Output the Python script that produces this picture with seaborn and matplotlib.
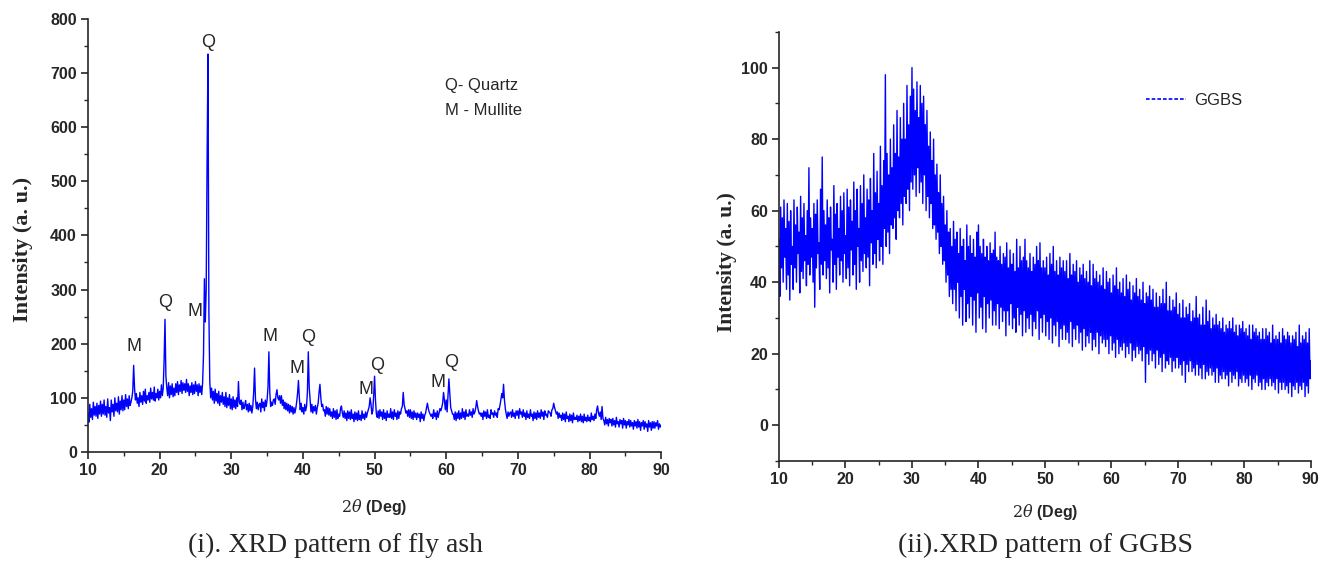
import numpy as np
import pandas as pd
import matplotlib
matplotlib.use("Agg")
import matplotlib.pyplot as plt
from matplotlib.lines import Line2D
from matplotlib.ticker import MultipleLocator
import seaborn as sns

# ---------------- data (0.125 deg steps, one row per degree) ----------------
theta_start, theta_step = 10.0, 0.125

fly_ash = [
    72, 55, 88, 64, 80, 60, 92, 68,        # 10
    84, 66, 90, 62, 86, 70, 94, 66,        # 11
    88, 70, 96, 68, 84, 64, 98, 72,        # 12
    82, 58, 96, 74, 88, 66, 100, 76,       # 13
    90, 74, 102, 70, 94, 78, 104, 76,      # 14
    96, 78, 106, 84, 98, 80, 104, 86,      # 15
    92, 100, 112, 160, 118, 96, 108, 90,   # 16
    100, 84, 110, 92, 104, 88, 112, 94,    # 17
    116, 90, 104, 96, 110, 92, 118, 98,    # 18
    110, 96, 120, 94, 108, 100, 116, 96,   # 19
    112, 100, 124, 104, 118, 170, 245, 140,  # 20
    118, 104, 128, 100, 122, 106, 126, 102,  # 21
    118, 104, 126, 110, 130, 106, 124, 112,  # 22
    132, 108, 128, 114, 126, 110, 134, 112,  # 23
    126, 104, 122, 110, 128, 106, 124, 108,  # 24
    130, 112, 124, 104, 126, 110, 122, 106,  # 25
    128, 180, 320, 240, 300, 540, 735, 260,  # 26
    130, 100, 118, 96, 112, 90, 116, 94,   # 27
    108, 90, 112, 86, 104, 92, 110, 88,    # 28
    102, 84, 110, 82, 100, 86, 106, 80,    # 29
    98, 78, 102, 82, 96, 80, 100, 84,      # 30
    130, 92, 88, 96, 78, 92, 80, 86,       # 31
    95, 78, 88, 74, 90, 76, 86, 72,        # 32
    84, 110, 155, 98, 80, 92, 78, 88,      # 33
    90, 74, 98, 82, 92, 76, 96, 84,        # 34
    96, 120, 185, 110, 84, 92, 86, 96,     # 35
    98, 88, 106, 115, 100, 96, 104, 90,    # 36
    104, 86, 96, 80, 92, 78, 90, 76,       # 37
    88, 72, 86, 74, 84, 70, 82, 72,        # 38
    80, 92, 108, 132, 100, 78, 90, 74,     # 39
    82, 70, 88, 76, 84, 110, 185, 120,     # 40
    96, 74, 88, 72, 84, 76, 86, 70,        # 41
    82, 90, 110, 125, 100, 84, 88, 76,     # 42
    78, 66, 84, 70, 82, 68, 80, 66,        # 43
    74, 62, 80, 64, 76, 60, 78, 62,        # 44
    70, 66, 80, 85, 72, 64, 76, 62,        # 45
    72, 58, 76, 62, 74, 60, 78, 62,        # 46
    70, 56, 74, 60, 72, 58, 76, 60,        # 47
    68, 58, 76, 62, 70, 60, 74, 64,        # 48
    72, 78, 84, 100, 88, 70, 76, 104,      # 49
    140, 96, 70, 64, 76, 62, 78, 66,       # 50
    74, 60, 78, 62, 72, 58, 76, 64,        # 51
    70, 64, 80, 62, 74, 60, 78, 66,        # 52
    72, 60, 76, 62, 74, 70, 80, 84,        # 53
    110, 88, 80, 72, 76, 66, 78, 64,       # 54
    78, 62, 74, 60, 76, 64, 72, 60,        # 55
    72, 64, 70, 56, 74, 62, 70, 58,        # 56
    68, 72, 82, 90, 80, 74, 70, 66,        # 57
    70, 62, 78, 66, 72, 60, 76, 64,        # 58
    72, 80, 76, 82, 90, 110, 96, 78,       # 59
    96, 74, 104, 135, 110, 82, 76, 70,     # 60
    70, 60, 74, 58, 72, 62, 76, 60,        # 61
    72, 62, 80, 64, 74, 60, 78, 66,        # 62
    70, 66, 78, 68, 74, 64, 80, 70,        # 63
    74, 82, 95, 84, 76, 70, 72, 66,        # 64
    72, 60, 76, 66, 74, 62, 78, 64,        # 65
    68, 62, 78, 70, 72, 64, 76, 68,        # 66
    72, 64, 80, 78, 86, 96, 108, 100,      # 67
    125, 96, 80, 70, 62, 74, 66, 72,       # 68
    74, 64, 78, 66, 72, 62, 76, 68,        # 69
    76, 62, 80, 70, 74, 64, 78, 66,        # 70
    72, 60, 76, 64, 70, 62, 78, 66,        # 71
    70, 58, 74, 62, 72, 60, 76, 64,        # 72
    72, 62, 78, 66, 74, 60, 76, 68,        # 73
    70, 64, 76, 74, 72, 66, 78, 80,        # 74
    90, 82, 76, 70, 74, 62, 72, 64,        # 75
    68, 58, 72, 60, 70, 56, 74, 62,        # 76
    66, 56, 70, 58, 68, 54, 72, 60,        # 77
    64, 60, 68, 56, 66, 58, 70, 56,        # 78
    66, 54, 70, 58, 64, 56, 68, 58,        # 79
    64, 56, 72, 60, 66, 58, 70, 62,        # 80
    78, 85, 72, 66, 74, 60, 84, 62,        # 81
    58, 50, 64, 52, 60, 48, 62, 54,        # 82
    60, 48, 62, 50, 58, 46, 64, 52,        # 83
    56, 46, 60, 52, 58, 44, 62, 50,        # 84
    58, 44, 56, 50, 60, 46, 58, 48,        # 85
    54, 42, 58, 48, 56, 44, 60, 46,        # 86
    56, 40, 54, 48, 58, 42, 56, 46,        # 87
    52, 38, 58, 46, 54, 40, 56, 44,        # 88
    56, 44, 54, 48, 58, 42, 52, 46,        # 89
    50,                                    # 90
]

ggbs = [
    52, 36, 61, 44, 58, 40, 63, 47,   # 10
    55, 38, 62, 42, 57, 35, 60, 45,   # 11
    50, 38, 63, 44, 56, 40, 61, 48,   # 12
    54, 37, 64, 43, 58, 41, 62, 46,   # 13
    53, 39, 60, 45, 72, 42, 58, 47,   # 14
    55, 40, 62, 33, 59, 44, 63, 48,   # 15
    51, 38, 66, 45, 75, 42, 60, 46,   # 16
    56, 41, 63, 44, 58, 37, 61, 49,   # 17
    52, 40, 67, 45, 59, 38, 62, 47,   # 18
    55, 42, 64, 46, 60, 40, 65, 48,   # 19
    53, 41, 66, 44, 61, 39, 63, 49,   # 20
    57, 42, 68, 45, 60, 38, 66, 50,   # 21
    55, 40, 67, 46, 62, 43, 70, 48,   # 22
    58, 44, 66, 47, 63, 39, 69, 51,   # 23
    60, 45, 76, 48, 65, 44, 71, 52,   # 24
    62, 46, 78, 50, 67, 45, 74, 55,   # 25
    98, 50, 76, 54, 70, 48, 80, 56,   # 26
    72, 55, 84, 58, 76, 52, 88, 60,   # 27
    75, 58, 86, 62, 80, 56, 90, 64,   # 28
    80, 62, 95, 66, 84, 60, 92, 68,   # 29
    100, 66, 94, 70, 88, 64, 96, 72,  # 30
    86, 65, 95, 68, 90, 62, 92, 70,   # 31
    84, 60, 88, 64, 78, 58, 82, 62,   # 32
    74, 55, 80, 56, 70, 52, 73, 54,   # 33
    65, 48, 70, 50, 62, 45, 64, 46,   # 34
    56, 40, 60, 42, 54, 36, 55, 38,   # 35
    50, 34, 57, 38, 52, 32, 54, 40,   # 36
    48, 30, 55, 36, 50, 28, 52, 38,   # 37
    46, 29, 56, 34, 50, 30, 53, 36,   # 38
    48, 28, 52, 35, 47, 26, 54, 37,   # 39
    56, 30, 50, 33, 48, 27, 52, 36,   # 40
    47, 26, 50, 34, 46, 30, 51, 35,   # 41
    48, 28, 49, 32, 54, 28, 47, 34,   # 42
    46, 27, 50, 33, 45, 29, 48, 32,   # 43
    47, 25, 51, 32, 44, 28, 49, 34,   # 44
    45, 27, 48, 30, 43, 26, 52, 33,   # 45
    44, 28, 50, 31, 46, 25, 47, 32,   # 46
    52, 26, 46, 30, 44, 27, 48, 31,   # 47
    43, 25, 47, 29, 45, 27, 50, 32,   # 48
    46, 24, 51, 30, 44, 26, 46, 31,   # 49
    44, 25, 47, 29, 42, 24, 48, 30,   # 50
    45, 23, 50, 28, 43, 25, 46, 29,   # 51
    42, 22, 47, 27, 44, 24, 46, 28,   # 52
    43, 24, 46, 26, 41, 23, 48, 29,   # 53
    42, 22, 45, 27, 43, 24, 46, 28,   # 54
    40, 23, 44, 26, 42, 21, 45, 27,   # 55
    41, 22, 43, 25, 40, 23, 46, 26,   # 56
    39, 21, 45, 24, 41, 22, 43, 26,   # 57
    40, 20, 42, 25, 39, 23, 44, 24,   # 58
    38, 22, 43, 24, 40, 20, 41, 25,   # 59
    37, 21, 42, 23, 39, 19, 44, 24,   # 60
    38, 20, 40, 22, 37, 21, 41, 23,   # 61
    36, 19, 42, 22, 38, 20, 40, 23,   # 62
    35, 18, 39, 21, 37, 19, 41, 22,   # 63
    36, 20, 38, 21, 35, 18, 40, 22,   # 64
    34, 12, 37, 20, 36, 17, 39, 21,   # 65
    35, 18, 38, 20, 33, 16, 37, 21,   # 66
    33, 17, 36, 19, 34, 15, 38, 20,   # 67
    34, 16, 40, 18, 32, 17, 36, 19,   # 68
    32, 15, 35, 18, 33, 16, 37, 19,   # 69
    31, 16, 34, 17, 30, 14, 35, 18,   # 70
    30, 12, 33, 17, 31, 15, 34, 18,   # 71
    29, 15, 32, 16, 30, 14, 36, 17,   # 72
    30, 14, 31, 16, 28, 13, 33, 17,   # 73
    28, 13, 35, 15, 29, 14, 32, 16,   # 74
    27, 14, 30, 15, 28, 12, 31, 16,   # 75
    28, 12, 29, 14, 27, 13, 30, 15,   # 76
    26, 13, 28, 14, 27, 11, 29, 15,   # 77
    27, 12, 30, 14, 26, 13, 28, 15,   # 78
    25, 11, 28, 13, 27, 12, 29, 14,   # 79
    26, 12, 27, 13, 25, 11, 28, 14,   # 80
    24, 10, 28, 13, 26, 12, 27, 14,   # 81
    25, 11, 26, 12, 24, 10, 27, 13,   # 82
    24, 10, 27, 12, 25, 11, 26, 13,   # 83
    23, 11, 28, 12, 24, 10, 25, 13,   # 84
    24, 9, 26, 12, 23, 10, 27, 12,    # 85
    25, 10, 24, 11, 26, 9, 25, 12,    # 86
    23, 8, 25, 11, 24, 10, 26, 12,    # 87
    22, 9, 28, 11, 23, 10, 25, 12,    # 88
    24, 8, 26, 11, 23, 9, 27, 13,     # 89
    18,                               # 90
]

# peak labels for fly ash
peak_letters = ["Q", "Q", "M", "M", "M", "Q", "M", "Q", "M", "M", "Q"]
peak_x = [26.8, 20.75, 16.4, 24.9, 35.4, 40.7, 39.2, 50.3, 48.8, 58.9, 60.7]
peak_y = [756, 277, 194, 260, 214, 212, 155, 159, 115, 128, 166]

fly_legend = ["Q- Quartz", "M - Mullite"]
ggbs_label = "GGBS"
captions = ["(i). XRD pattern of fly ash", "(ii).XRD pattern of GGBS"]

df_fa = pd.DataFrame({"theta": theta_start + theta_step * np.arange(len(fly_ash)), "I": fly_ash})
df_gg = pd.DataFrame({"theta": theta_start + theta_step * np.arange(len(ggbs)), "I": ggbs})

# ---------------- style ----------------
sns.set_style("ticks")
plt.rcParams["font.family"] = ["Liberation Sans", "DejaVu Sans"]
plt.rcParams["mathtext.fontset"] = "dejavuserif"

fig = plt.figure(figsize=(13.33, 5.64), dpi=100)
ax1 = fig.add_axes([0.066, 0.1986, 0.430, 0.768])
ax2 = fig.add_axes([0.5844, 0.1826, 0.399, 0.761])

blue = "#0000FF"
sns.lineplot(data=df_fa, x="theta", y="I", ax=ax1, color=blue, linewidth=1.0)
sns.lineplot(data=df_gg, x="theta", y="I", ax=ax2, color=blue, linewidth=1.0)

ax1.set_xlim(10, 90)
ax1.set_ylim(0, 800)
ax2.set_xlim(10, 90)
ax2.set_ylim(-10, 110)

for ax, ymaj, ymin in [(ax1, 100, 50), (ax2, 20, 10)]:
    sns.despine(ax=ax)
    ax.xaxis.set_major_locator(MultipleLocator(10))
    ax.xaxis.set_minor_locator(MultipleLocator(5))
    ax.yaxis.set_major_locator(MultipleLocator(ymaj))
    ax.yaxis.set_minor_locator(MultipleLocator(ymin))
    ax.tick_params(which="major", direction="out", length=5, width=1.2, labelsize=11.5, pad=3)
    ax.tick_params(which="minor", direction="out", length=3, width=1.0)
    for lab in ax.get_xticklabels() + ax.get_yticklabels():
        lab.set_fontweight("bold")
    for sp in ax.spines.values():
        sp.set_linewidth(1.2)
    ax.set_xlabel(r"$2\theta$ (Deg)", fontweight="bold", fontsize=11.5)

ax1.set_ylabel("Intensity (a. u.)", fontfamily="Liberation Serif",
               fontweight="bold", fontsize=16)
ax2.set_ylabel("Intensity (a. u.)", fontfamily="Liberation Serif",
               fontweight="bold", fontsize=15.5)

ax2.set_yticks([0, 20, 40, 60, 80, 100])
ax1.yaxis.set_label_coords(-0.096, 0.467)
ax2.yaxis.set_label_coords(-0.079, 0.464)
ax1.xaxis.set_label_coords(0.5, -0.104)
ax2.xaxis.set_label_coords(0.5, -0.096)

for t, px, py in zip(peak_letters, peak_x, peak_y):
    ax1.text(px, py, t, ha="center", va="center", fontsize=13)

ax1.text(59.8, 676, fly_legend[0], ha="left", va="center", fontsize=12)
ax1.text(59.8, 630, fly_legend[1], ha="left", va="center", fontsize=12)

handle = Line2D([], [], color=blue, linestyle=(0, (2.2, 1.2)), linewidth=1.2)
ax2.legend(handles=[handle], labels=[ggbs_label], loc="center left",
           bbox_to_anchor=(0.69, 0.841), frameon=False, fontsize=12,
           handlelength=2.4, handletextpad=0.5, borderpad=0, borderaxespad=0)

fig.text(0.252, 0.033, captions[0], ha="center", va="center",
         fontfamily="Liberation Serif", fontsize=20)
fig.text(0.784, 0.033, captions[1], ha="center", va="center",
         fontfamily="Liberation Serif", fontsize=20)

fig.savefig("out.png", dpi=100)
